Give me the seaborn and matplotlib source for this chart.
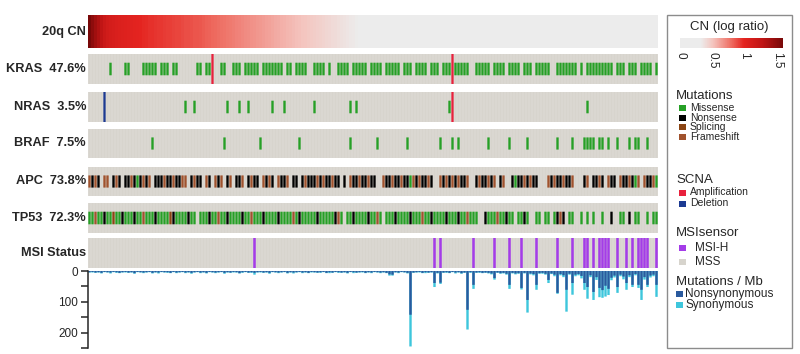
import numpy as np
import matplotlib
matplotlib.use("Agg")
from matplotlib import pyplot as plt
from matplotlib.colors import LinearSegmentedColormap, Normalize
from matplotlib.cm import ScalarMappable
from matplotlib.patches import Rectangle
import seaborn as sns

W, H = 800, 354

# 20q copy number (log ratio), samples sorted from high to low
CN_20Q = [
    1.60, 1.50, 1.42, 1.35, 1.28, 1.20, 1.15, 1.12, 1.10, 1.08, 1.06, 1.05, 1.04, 1.03, 1.02, 1.01, 1.00, 0.99, 0.98, 0.97,
    0.96, 0.96, 0.95, 0.94, 0.94, 0.93, 0.92, 0.92, 0.91, 0.90, 0.90, 0.89, 0.88, 0.88, 0.87, 0.86, 0.86, 0.85, 0.84, 0.83,
    0.82, 0.81, 0.80, 0.79, 0.78, 0.77, 0.76, 0.75, 0.74, 0.73, 0.72, 0.71, 0.70, 0.69, 0.68, 0.67, 0.66, 0.65, 0.64, 0.63,
    0.62, 0.61, 0.60, 0.59, 0.58, 0.57, 0.56, 0.55, 0.54, 0.53, 0.52, 0.51, 0.50, 0.49, 0.48, 0.47, 0.46, 0.45, 0.44, 0.43,
    0.42, 0.41, 0.40, 0.39, 0.38, 0.37, 0.36, 0.35, 0.34, 0.33, 0.32, 0.31, 0.30, 0.29, 0.28, 0.27, 0.26, 0.25, 0.24, 0.23,
    0.22, 0.21, 0.21, 0.20, 0.19, 0.19, 0.18, 0.17, 0.17, 0.16, 0.15, 0.15, 0.14, 0.13, 0.13, 0.12, 0.11, 0.11, 0.10, 0.10,
    0.09, 0.09, 0.08, 0.08, 0.07, 0.07, 0.06, 0.06, 0.05, 0.05, 0.04, 0.04, 0.03, 0.03, 0.02, 0.02, 0.01, 0.01, 0.00, 0.00,
    -0.01, -0.01, -0.02, -0.02, -0.03, -0.03, -0.04, -0.05, -0.05, -0.06, -0.07, -0.08, -0.08, -0.09, -0.10, -0.11, -0.12, -0.13, -0.14, -0.15,
    -0.16, -0.17, -0.18, -0.19, -0.20, -0.21, -0.22, -0.24, -0.25, -0.26, -0.28, -0.29, -0.31, -0.32, -0.34, -0.36, -0.38, -0.40, -0.42, -0.45,
    -0.48, -0.51, -0.54, -0.58, -0.62, -0.67, -0.72, -0.78, -0.86, -0.95,
]

# mutation calls per sample: M missense, N nonsense, S splicing, F frameshift, . none
KRAS = "".join([
    ".......M..", "..MM....MM", "MMM.MMM.MM", "......MM.M", "M...MM..MM",
    "M.MMMMM.MM", "MMMMM.MM.M", "MMM..MMMM.", "M..MMMM.MM", "MMM.MMMM.M",
    "MMMM.MMM.M", "MMM.MMM.MM", "M.MMMMM..M", "MMMM.MMMM.", "MMMM.MMM.M",
    "MMMM..MMMM", "MMM.M.MMMM", "MMMMM.MMM.", "MMM.MMMM.M",
])
APC = "".join([
    "FNFN.FF.NF", "N.NNFNMNFN", "F.NNNFNNFN", "NFF.NFNN.F", "N.FNF.NF.N",
    "NF.NFNN.FN", "FN.FNNF.NN", ".NFNNNFNFN", "NFNN.N.FNN", "FNNFNN..FN",
    "NFNNFNNMFN", "FNNFN..FNF", "NFNFNNF..N", "FNNFNF.NF.", ".NMNNFNFNN",
    "...FNFNNFN", "NF...NF.NN", "FN.FNN.FNN", "FNMF.FNNFM",
])
TP53 = "".join([
    "MMFMMNMMSM", "MNMMMNMMFM", "MMNMMMMSNM", "MMMNMM.MMM", "NMMFMMNMMM",
    "MNMMFMMMNM", "MMMNMMMMFM", "NMMMMMNMMM", "MMNFM.MMNM", "MMMNMMFM.M",
    "MMNMMMMNMM", "MFMMNMMMMN", "MMMNMMFMMM", "..NMMMFMMN", "MM.MMNM..M",
    "M.MM.MNFN.", "MM..M.M.M.", ".M..N..MM.", "N.MM..M.MM",
])
NRAS_MISSENSE = [32, 35, 46, 50, 53, 61, 65, 75, 87, 89, 120, 166]
BRAF_MISSENSE = [21, 45, 57, 70, 87, 96, 106, 117, 121, 123, 133, 140, 146, 156,
                 161, 165, 166, 167, 168, 170, 171, 173, 176, 180, 182, 183, 186]

# copy number events
KRAS_AMP = [41, 121]
NRAS_AMP = [121]
NRAS_DEL = [5]

# MSIsensor: MSI-H samples
MSI_H = [55, 115, 117, 128, 135, 140, 144, 149, 156, 161, 165, 166, 168, 170, 171,
         172, 173, 176, 179, 181, 183, 184, 185, 186, 189]

# mutations / Mb
NONSYN = [
    4, 3, 5, 4, 6, 3, 4, 5, 3, 4, 6, 4, 3, 5, 4, 7, 3, 4, 5,
    4, 3, 6, 4, 5, 3, 4, 4, 6, 3, 5, 4, 3, 5, 4, 6, 4, 3, 5,
    4, 6, 3, 4, 5, 4, 3, 6, 4, 5, 3, 4, 7, 4, 3, 5, 4, 6, 4,
    3, 5, 4, 6, 3, 4, 5, 4, 3, 6, 4, 5, 4, 3, 5, 4, 6, 3, 4,
    5, 4, 3, 6, 4, 5, 3, 4, 5, 4, 6, 3, 4, 5, 4, 3, 6, 4, 5,
    3, 4, 5, 4, 6, 11, 12, 4, 5, 3, 4, 6, 142, 5, 4, 3, 6, 4, 5,
    4, 39, 6, 38, 5, 4, 6, 3, 5, 4, 7, 5, 126, 4, 45, 5, 4, 6, 5,
    6, 8, 23, 5, 7, 6, 9, 45, 6, 8, 7, 55, 6, 94, 8, 10, 45, 7, 6,
    9, 29, 8, 12, 71, 10, 14, 61, 9, 39, 12, 10, 16, 39, 52, 14, 68, 20, 55,
    62, 48, 58, 22, 15, 52, 12, 18, 39, 14, 45, 10, 45, 61, 20, 45, 15, 12, 45,
]
SYN = [
    1, 2, 1, 1, 2, 1, 1, 3, 1, 2, 1, 1, 2, 1, 1, 2, 1, 1, 2,
    1, 1, 2, 1, 3, 1, 1, 2, 1, 1, 2, 1, 1, 2, 1, 3, 1, 1, 2,
    1, 2, 1, 1, 2, 1, 1, 3, 1, 1, 2, 1, 1, 2, 1, 1, 2, 6, 1,
    2, 1, 1, 3, 1, 1, 2, 1, 1, 2, 1, 3, 1, 1, 2, 1, 1, 2, 1,
    1, 2, 1, 1, 3, 1, 1, 2, 1, 1, 2, 1, 3, 1, 1, 2, 1, 1, 2,
    1, 1, 2, 1, 1, 4, 3, 1, 2, 1, 1, 2, 103, 1, 1, 2, 1, 3, 1,
    1, 13, 2, 4, 1, 2, 1, 1, 3, 1, 2, 1, 64, 2, 13, 1, 2, 1, 1,
    2, 3, 5, 1, 2, 2, 3, 13, 2, 3, 2, 5, 2, 41, 3, 4, 16, 2, 3,
    3, 10, 2, 5, 3, 4, 6, 71, 3, 38, 5, 4, 8, 22, 38, 6, 26, 9, 30,
    25, 35, 20, 8, 6, 19, 5, 9, 22, 6, 7, 4, 10, 33, 8, 7, 6, 5, 39,
]

ROW_LABELS = ["20q CN", "KRAS  47.6%", "NRAS  3.5%", "BRAF  7.5%", "APC  73.8%", "TP53  72.3%", "MSI Status"]

N = len(CN_20Q)
IDX = list(range(N))
assert len(KRAS) == N and len(APC) == N and len(TP53) == N
assert len(NONSYN) == N and len(SYN) == N

MUT_COLORS = {"M": "#26a026", "N": "#000000", "S": "#8B4513", "F": "#A0522D"}
AMP_COLOR = "#e8213d"
DEL_COLOR = "#1c3a92"
MSI_COLOR = "#a43ce8"
MSS_COLOR = "#d7d4cd"
GAP_COLOR = "#e6e4df"
NONSYN_COLOR = "#2a5a9e"
SYN_COLOR = "#3ec6dc"

cn_cmap = LinearSegmentedColormap.from_list("cn", [
    (0.0, "#ececec"), (0.2, "#ececec"), (0.32, "#f4c4be"), (0.5, "#ee6b60"),
    (0.62, "#e42420"), (0.8, "#c01515"), (1.0, "#780808")])

sns.set_style("ticks")
plt.rcParams["font.family"] = ["Liberation Sans", "DejaVu Sans"]

fig = plt.figure(figsize=(W / 100, H / 100), dpi=100)


def rect(x0, y0, x1, y1):
    return [x0 / W, 1 - y1 / H, (x1 - x0) / W, (y1 - y0) / H]


X0, X1 = 88, 658
rows_y = [(15, 48), (54, 84), (92, 122), (129, 158), (167, 196), (203, 233), (238, 268)]


def clean(ax):
    ax.set_xlim(-0.5, N - 0.5)
    ax.set_ylim(0, 1)
    ax.set_xticks([])
    ax.set_yticks([])
    for s in ax.spines.values():
        s.set_visible(False)


def draw_track(ax, calls=None, missense=None, amp=None, dele=None):
    ax.set_facecolor(GAP_COLOR)
    ax.bar(IDX, 1, width=0.84, bottom=0, color=MSS_COLOR, linewidth=0, snap=False)
    if calls is not None:
        for code, colour in MUT_COLORS.items():
            xs = [i for i, c in enumerate(calls) if c == code]
            if xs:
                ax.bar(xs, 0.42, width=0.78, bottom=0.29, color=colour, linewidth=0, snap=False)
    if missense:
        ax.bar(missense, 0.42, width=0.78, bottom=0.29, color=MUT_COLORS["M"], linewidth=0, snap=False)
    if amp:
        ax.bar(amp, 1, width=0.75, bottom=0, color=AMP_COLOR, linewidth=0, snap=False)
    if dele:
        ax.bar(dele, 1, width=0.75, bottom=0, color=DEL_COLOR, linewidth=0, snap=False)
    clean(ax)


# 20q CN heatmap row
ax_cn = fig.add_axes(rect(X0, rows_y[0][0], X1, rows_y[0][1]))
sns.heatmap(np.array([CN_20Q]), cmap=cn_cmap, vmin=0, vmax=1.6, cbar=False,
            xticklabels=False, yticklabels=False, ax=ax_cn)

tracks = [
    dict(calls=KRAS, amp=KRAS_AMP),
    dict(missense=NRAS_MISSENSE, amp=NRAS_AMP, dele=NRAS_DEL),
    dict(missense=BRAF_MISSENSE),
    dict(calls=APC),
    dict(calls=TP53),
]
for (y0, y1), kw in zip(rows_y[1:6], tracks):
    ax = fig.add_axes(rect(X0, y0, X1, y1))
    draw_track(ax, **kw)

# MSI status
ax_msi = fig.add_axes(rect(X0, rows_y[6][0], X1, rows_y[6][1]))
draw_track(ax_msi)
ax_msi.bar(MSI_H, 1, width=0.85, bottom=0, color=MSI_COLOR, linewidth=0, snap=False)

# row labels
for label, (y0, y1) in zip(ROW_LABELS, rows_y):
    fig.text(86 / W, 1 - (y0 + y1) / 2 / H, label, ha="right", va="center",
             fontsize=9.2, fontweight="bold")

# mutation burden
ax_b = fig.add_axes(rect(X0, 271, X1, 348))
total = [a + b for a, b in zip(NONSYN, SYN)]
sns.barplot(x=IDX, y=total, color=SYN_COLOR, native_scale=True, width=0.8,
            errorbar=None, saturation=1, linewidth=0, snap=False, ax=ax_b)
sns.barplot(x=IDX, y=NONSYN, color=NONSYN_COLOR, native_scale=True, width=0.8,
            errorbar=None, saturation=1, linewidth=0, snap=False, ax=ax_b)
ax_b.set_xlim(-0.5, N - 0.5)
ax_b.set_ylim(250, 0)
ax_b.set_xticks([])
ax_b.set_yticks([0, 50, 100, 150, 200, 250])
ax_b.set_yticklabels(["0", "", "100", "", "200", ""], fontsize=8.5)
ax_b.set_xlabel("")
ax_b.set_ylabel("")
ax_b.tick_params(axis="y", direction="out", length=5, width=1.1, pad=2)
sns.despine(ax=ax_b, top=True, right=True, bottom=True)
ax_b.spines["left"].set_linewidth(1.1)
ax_b.patch.set_alpha(0)

# legend panel
fig.patches.append(Rectangle((667 / W, 1 - 348 / H), 125 / W, 333 / H, transform=fig.transFigure,
                             fill=False, edgecolor="#8c8c8c", linewidth=1.0))


def ltext(x, y, s, size=7.5):
    fig.text(x / W, 1 - y / H, s, ha="left", va="center", fontsize=size)


def lsquare(x, y, colour, w=7, h=6):
    fig.patches.append(Rectangle((x / W, 1 - (y + h / 2) / H), w / W, h / H,
                                 transform=fig.transFigure, color=colour, linewidth=0))


fig.text(729 / W, 1 - 27 / H, "CN (log ratio)", ha="center", va="center", fontsize=9.5)
cax = fig.add_axes(rect(680, 38, 783, 48))
cb = fig.colorbar(ScalarMappable(norm=Normalize(0, 1.6), cmap=cn_cmap), cax=cax, orientation="horizontal")
cb.outline.set_visible(False)
cb.set_ticks([0, 0.5, 1, 1.5])
cb.set_ticklabels(["0", "0.5", "1", "1.5"])
cax.tick_params(length=0, pad=3, labelsize=8.5, labelrotation=-90)

ltext(676, 96, "Mutations", 9.5)
for yy, (lab, col) in zip([108, 117.5, 127, 136.5],
                          [("Missense", MUT_COLORS["M"]), ("Nonsense", MUT_COLORS["N"]),
                           ("Splicing", MUT_COLORS["S"]), ("Frameshift", MUT_COLORS["F"])]):
    lsquare(679, yy, col)
    ltext(690, yy, lab)

ltext(676, 180, "SCNA", 9.5)
for yy, (lab, col) in zip([192.5, 203.5], [("Amplification", AMP_COLOR), ("Deletion", DEL_COLOR)]):
    lsquare(679, yy, col)
    ltext(690, yy, lab)

ltext(676, 233, "MSIsensor", 9.5)
for yy, (lab, col) in zip([248, 262], [("MSI-H", MSI_COLOR), ("MSS", MSS_COLOR)]):
    lsquare(679, yy, col)
    ltext(695, yy, lab, 8.5)

ltext(676, 282, "Mutations / Mb", 9.5)
for yy, (lab, col) in zip([294, 305], [("Nonsynonymous", NONSYN_COLOR), ("Synonymous", SYN_COLOR)]):
    lsquare(676, yy, col)
    ltext(685, yy, lab, 8.5)

fig.savefig("out.png", dpi=100)
